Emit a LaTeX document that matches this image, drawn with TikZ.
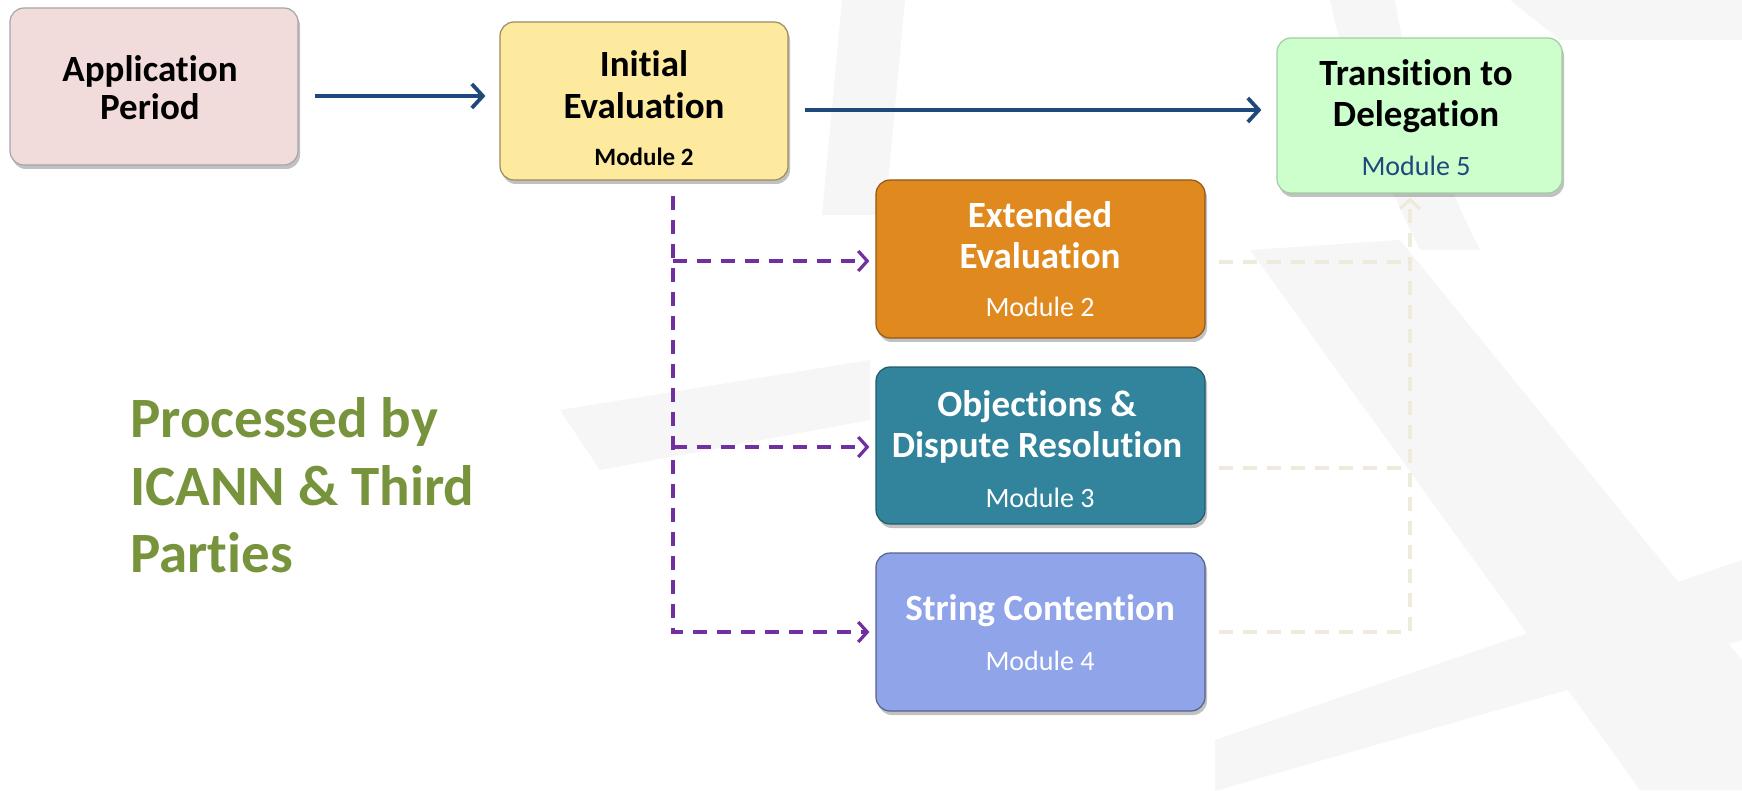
\documentclass[tikz,border=0pt]{standalone}
\usepackage{fontspec}
\setmainfont{Carlito}[Ligatures=NoCommon]
\usetikzlibrary{arrows.meta,shadows}
\definecolor{appfill}{HTML}{F2DCDB}
\definecolor{initfill}{HTML}{FEEA9E}
\definecolor{transfill}{HTML}{CCFFCC}
\definecolor{extfill}{HTML}{E0891F}
\definecolor{objfill}{HTML}{31849B}
\definecolor{strfill}{HTML}{8FA4E9}
\definecolor{darkblue}{HTML}{1F497D}
\definecolor{purp}{HTML}{7030A0}
\definecolor{faint}{HTML}{EEEBDD}
\definecolor{olivegreen}{HTML}{77933C}
\definecolor{wm}{HTML}{F6F6F6}
\begin{document}
\begin{tikzpicture}[x=1pt,y=-1pt,
  box/.style={rounded corners=14pt, draw, line width=1.2pt, inner sep=0pt,
    drop shadow={shadow xshift=2pt,shadow yshift=-4pt,opacity=0.35,fill=black!70}},
  title/.style={font=\bfseries\fontsize{37}{40}\selectfont, anchor=base, inner sep=0pt},
  modtext/.style={font=\fontsize{28}{32}\selectfont, anchor=base, inner sep=0pt},
  bigtext/.style={font=\bfseries\fontsize{57}{68}\selectfont, anchor=base west, inner sep=0pt, text=olivegreen},
  bluearrow/.style={draw=darkblue, line width=3.8pt, -{Straight Barb[length=11pt,width=24pt]}},
  purparrow/.style={draw=purp, line width=3.2pt, dash pattern=on 14pt off 10pt, -{Straight Barb[length=9pt,width=20pt,line width=3.2pt]}},
  faintarrow/.style={draw=faint, line width=3.2pt, dash pattern=on 14pt off 10pt, -{Straight Barb[length=9pt,width=20pt,line width=3.2pt]}},
  faintline/.style={draw=faint, line width=3.2pt, dash pattern=on 14pt off 10pt}
]
\useasboundingbox (0,0) rectangle (1742,791);
% faint watermark shapes
\fill[wm] (842,0) -- (905,0) -- (885,215) -- (822,215) -- cycle;
\fill[wm] (1330,0) .. controls (1350,90) and (1380,170) .. (1420,250) -- (1480,250) .. controls (1440,170) and (1410,90) .. (1395,0) -- cycle;
\fill[wm] (1250,250) -- (1400,240) -- (1742,660) -- (1742,790) -- (1640,790) -- cycle;
\fill[wm] (560,410) -- (870,360) -- (870,420) -- (600,470) -- cycle;
\fill[wm] (1215,740) -- (1742,560) -- (1742,640) -- (1215,791) -- cycle;
\fill[wm] (1510,0) -- (1742,0) -- (1742,40) -- (1560,40) -- cycle;

% boxes
\node[box, fill=appfill, draw=black!35, minimum width=288pt, minimum height=157pt] (app) at (154,86.5) {};
\node[box, fill=initfill, draw=black!40!initfill, minimum width=288pt, minimum height=158pt] (init) at (644,101) {};
\node[box, fill=transfill, draw=transfill!80!black, minimum width=285pt, minimum height=155pt] (trans) at (1419.5,115.5) {};
\node[box, fill=extfill, draw=extfill!65!black, minimum width=329pt, minimum height=158pt] (ext) at (1040.5,259) {};
\node[box, fill=objfill, draw=objfill!70!black, minimum width=329pt, minimum height=157pt] (obj) at (1040.5,445.5) {};
\node[box, fill=strfill, draw=strfill!60!black, minimum width=329pt, minimum height=158pt] (str) at (1040.5,632) {};

% texts
\node[title] (appA) at (150,82) {Application};
\node[title] (appB) at (150,120) {Period};
\node[title] (initA) at (644,77) {Initial};
\node[title] (initB) at (644,119) {Evaluation};
\node[title, font=\bfseries\fontsize{25}{30}\selectfont] (initM) at (644,166) {Module 2};
\node[title] (transA) at (1416,86) {Transition to};
\node[title] (transB) at (1416,127) {Delegation};
\node[modtext, text=darkblue] (transM) at (1416,176) {Module 5};
\node[title, text=white] (extA) at (1040,228) {Extended};
\node[title, text=white] (extB) at (1040,269) {Evaluation};
\node[modtext, text=white] (extM) at (1040,317) {Module 2};
\node[title, text=white] (objA) at (1037,416) {Objections \&};
\node[title, text=white] (objB) at (1037,457) {Dispute Resolution};
\node[modtext, text=white] (objM) at (1040,507) {Module 3};
\node[title, text=white] (strA) at (1040,620) {String Contention};
\node[modtext, text=white] (strM) at (1040,670) {Module 4};
\node[bigtext] (p1) at (130,437) {Processed by};
\node[bigtext] (p2) at (130,505) {ICANN \& Third};
\node[bigtext] (p3) at (130,572) {Parties};

% main arrows
\draw[bluearrow] ([shift={(16,9.5)}]app.east) -- ([shift={(-14,-5)}]init.west);
\draw[bluearrow] ([shift={(16,9)}]init.east) -- ([shift={(-15,-5.5)}]trans.west);

% purple dashed branches
\coordinate (pvtop) at ([shift={(29,15)}]init.south);
\draw[purparrow] (pvtop) -- (pvtop |- str.west) -- ([shift={(-6,0)}]str.west);
\draw[purparrow] ([shift={(0,2)}]pvtop |- ext.west) -- ([shift={(-6,2)}]ext.west);
\draw[purparrow] ([shift={(0,1.5)}]pvtop |- obj.west) -- ([shift={(-6,1.5)}]obj.west);

% faint dashed return lines
\coordinate (fv) at ([shift={(-9.5,4)}]trans.south);
\draw[faintline] ([shift={(13,3)}]ext.east) -- ([shift={(0,3)}]fv |- ext.east);
\draw[faintline] ([shift={(13,22.5)}]obj.east) -- ([shift={(0,22.5)}]fv |- obj.east);
\draw[faintarrow] ([shift={(13,0)}]str.east) -- (fv |- str.east) -- (fv);
\end{tikzpicture}
\end{document}
